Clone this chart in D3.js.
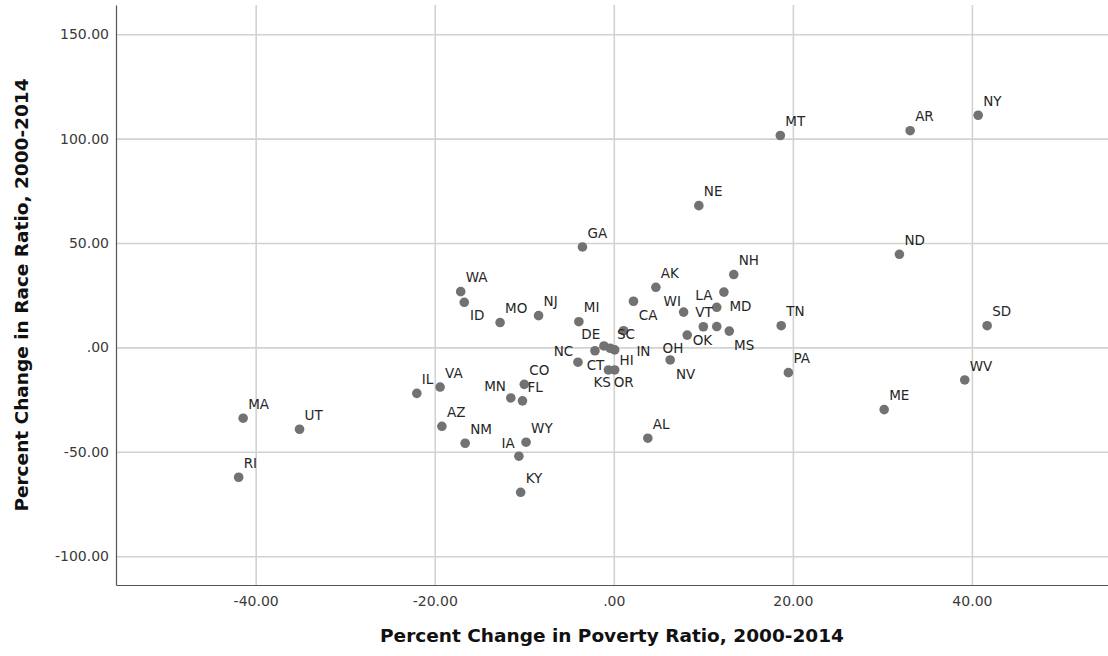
<!DOCTYPE html>
<html>
<head>
<meta charset="utf-8">
<script src="https://cdn.jsdelivr.net/npm/d3@7"></script>
<style>
  html, body { margin: 0; padding: 0; background: #fff; }
  svg { display: block; font-family: 'DejaVu Sans', sans-serif; }
</style>
</head>
<body>
<div id="chart"></div>
<script>
// State abbreviations and their values
const states = ["NY","AR","MT","NE","ND","GA","AK","NH","WA","LA","ID","MO","NJ","WI","MD","MI","CA",
  "VT","TN","SD","DE","SC","NC","OK","MS","IN","OH","CT","HI","PA","KS","OR","NV","IL","VA","CO",
  "MN","FL","WV","UT","MA","AZ","WY","ME","NM","IA","AL","RI","KY"];
const povertyChange = [40.7,33.1,18.6,9.5,31.9,-3.5,4.7,13.4,-17.1,12.3,-16.7,-12.7,-8.4,7.8,11.5,-3.9,2.2,
  11.5,18.7,41.7,-1.1,1.1,-4.0,10.0,12.9,0.1,8.2,-2.1,-0.4,19.5,-0.6,0.1,6.3,-22.0,-19.4,-10.0,
  -11.5,-10.2,39.2,-35.1,-41.4,-19.2,-9.8,30.2,-16.6,-10.6,3.8,-41.9,-10.4];
const raceChange = [111.2,103.8,101.5,67.9,44.6,48.1,28.8,34.9,26.7,26.5,21.6,11.9,15.2,16.9,19.2,12.3,22.1,
  10.0,10.4,10.4,0.7,8.0,-7.1,9.9,7.8,-1.2,5.9,-1.6,-0.4,-12.1,-10.8,-10.8,-6.0,-22.0,-19.0,-17.7,
  -24.2,-25.6,-15.6,-39.2,-33.9,-37.8,-45.4,-29.8,-45.9,-52.1,-43.5,-62.2,-69.4];
const xTicks = [-40, -20, 0, 20, 40];
const yTicks = [-100, -50, 0, 50, 100, 150];

// label placement: left edge / vertical centre relative to the dot (px)
const labelDefault = { dx: 5, dy: -14 };
const labelOffsets = {
  LA: { dx: -28.6, dy: 3 }, MD: { dx: 12.7, dy: -0.6 }, WI: { dx: -20, dy: -11 },
  CA: { dx: 5.3, dy: 14.4 }, VT: { dx: -21.6, dy: -14 }, OK: { dx: -10.6, dy: 13.3 },
  MS: { dx: 4.7, dy: 14.3 }, OH: { dx: -24.6, dy: 13.3 }, NV: { dx: 5.7, dy: 14 },
  SC: { dx: -6.6, dy: 3.6 }, DE: { dx: -22.6, dy: -11.7 }, CT: { dx: -8.3, dy: 14.3 },
  HI: { dx: 9.3, dy: 12.4 }, IN: { dx: 21.7, dy: 1 }, NC: { dx: -24.3, dy: -11.3 },
  KS: { dx: -15, dy: 12.3 }, OR: { dx: -1, dy: 12.3 }, ID: { dx: 5.7, dy: 13.4 },
  MN: { dx: -26.7, dy: -12 }, IA: { dx: -17.3, dy: -13 }
};

const W = 1108, H = 656;
const margin = { top: 5, right: 0, bottom: 71, left: 116 };
const width = W - margin.left - margin.right;
const height = H - margin.top - margin.bottom;

const svg = d3.select('#chart').append('svg')
  .attr('width', W)
  .attr('height', H);

const g = svg.append('g')
  .attr('transform', `translate(${margin.left},${margin.top})`);

const x = d3.scaleLinear().domain([-55.6, 55.2]).range([0, width]);
const y = d3.scaleLinear().domain([-113.8, 164.0]).range([height, 0]);

const fmt = v => v.toFixed(2).replace(/^(-?)0\./, '$1.');

// Grid lines
g.append('g')
  .attr('class', 'grid')
  .call(d3.axisLeft(y).tickValues(yTicks).tickSize(-width).tickFormat(''))
  .call(s => s.select('.domain').remove())
  .call(s => s.selectAll('line').attr('stroke', '#d2d2d2').attr('stroke-width', 1.6));

g.append('g')
  .attr('class', 'grid')
  .attr('transform', `translate(0,${height})`)
  .call(d3.axisBottom(x).tickValues(xTicks).tickSize(-height).tickFormat(''))
  .call(s => s.select('.domain').remove())
  .call(s => s.selectAll('line').attr('stroke', '#d2d2d2').attr('stroke-width', 1.6));

// Axes
const yAxis = g.append('g')
  .call(d3.axisLeft(y).tickValues(yTicks).tickSize(0).tickPadding(7).tickFormat(fmt));
const xAxis = g.append('g')
  .attr('transform', `translate(0,${height})`)
  .call(d3.axisBottom(x).tickValues(xTicks).tickSize(0).tickPadding(11).tickFormat(fmt));

[xAxis, yAxis].forEach(a => {
  a.select('.domain').attr('stroke', '#555').attr('stroke-width', 1.2);
  a.selectAll('text')
    .attr('fill', '#3a3a3a')
    .style('font-size', '14px')
    .style('font-family', "'DejaVu Sans', sans-serif");
});

// Points
const pts = states.map((s, i) => ({ s, px: povertyChange[i], rc: raceChange[i] }));

g.selectAll('circle')
  .data(pts)
  .enter()
  .append('circle')
  .attr('cx', d => x(d.px))
  .attr('cy', d => y(d.rc))
  .attr('r', 4.8)
  .attr('fill', '#727272');

g.selectAll('text.lbl')
  .data(pts)
  .enter()
  .append('text')
  .attr('class', 'lbl')
  .attr('x', d => x(d.px) + (labelOffsets[d.s] || labelDefault).dx)
  .attr('y', d => y(d.rc) + (labelOffsets[d.s] || labelDefault).dy)
  .attr('dy', '0.35em')
  .attr('fill', '#262626')
  .style('font-size', '13.5px')
  .text(d => d.s);

// Axis titles
svg.append('text')
  .attr('x', margin.left + width / 2)
  .attr('y', 642)
  .attr('text-anchor', 'middle')
  .style('font-size', '18.5px')
  .style('font-weight', 'bold')
  .attr('fill', '#111')
  .text('Percent Change in Poverty Ratio, 2000-2014');

svg.append('text')
  .attr('transform', `translate(28,${margin.top + height / 2}) rotate(-90)`)
  .attr('text-anchor', 'middle')
  .style('font-size', '18.5px')
  .style('font-weight', 'bold')
  .attr('fill', '#111')
  .text('Percent Change in Race Ratio, 2000-2014');
</script>
</body>
</html>
